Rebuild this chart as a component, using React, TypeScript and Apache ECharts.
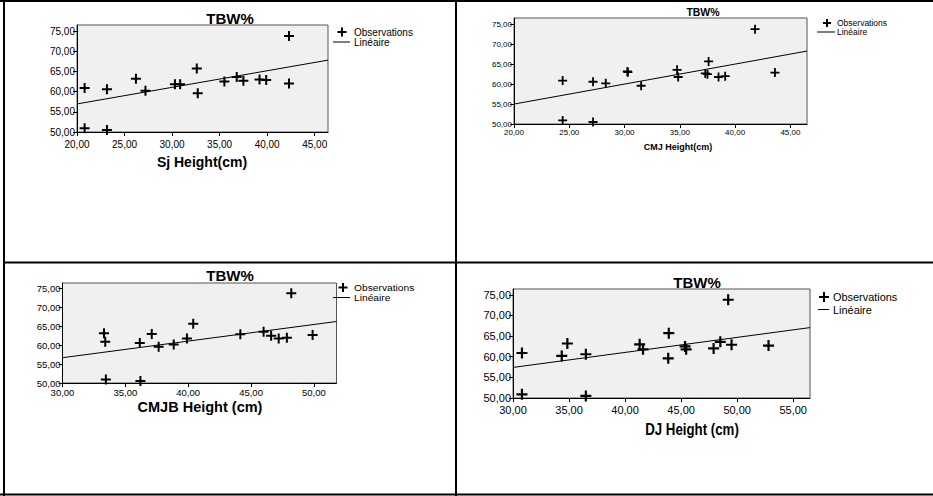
import React, { useEffect, useRef } from 'react';
import * as echarts from 'echarts';

// ---------- data ----------
const yTicks = [50, 55, 60, 65, 70, 75];

const sjTicks = [20, 25, 30, 35, 40, 45];
const sjHeight = [20.8, 20.8, 23.15, 23.15, 26.2, 27.2, 30.3, 30.85, 32.6, 32.7, 35.5, 36.8, 37.5, 39.2, 39.9, 42.3, 42.3];
const sjTBW = [60.9, 50.9, 60.6, 50.5, 63.2, 60.2, 61.8, 61.8, 65.7, 59.6, 62.5, 63.6, 62.7, 63.0, 62.9, 73.8, 62.0];
const sjFitX = [20, 46.4];
const sjFitY = [56.95, 67.8];

const cmjTicks = [20, 25, 30, 35, 40, 45];
const cmjHeight = [24.4, 24.4, 27.15, 27.15, 28.3, 30.25, 30.3, 31.5, 34.75, 34.85, 37.3, 37.6, 37.5, 38.5, 39.1, 41.8, 43.6];
const cmjTBW = [60.9, 50.9, 60.6, 50.5, 60.2, 63.2, 63.0, 59.6, 63.6, 61.8, 62.7, 65.7, 62.5, 61.8, 62.0, 73.8, 62.9];
const cmjFitX = [20, 46.5];
const cmjFitY = [55.0, 68.3];

const cmjbTicks = [30, 35, 40, 45, 50];
const cmjbHeight = [33.3, 33.4, 33.45, 36.15, 36.2, 37.1, 37.65, 38.85, 39.9, 40.4, 44.15, 46.0, 46.6, 47.2, 47.85, 48.2, 49.9];
const cmjbTBW = [63.2, 60.9, 50.9, 60.6, 50.5, 63.0, 59.6, 60.2, 61.8, 65.7, 62.9, 63.6, 62.5, 61.8, 62.0, 73.8, 62.7];
const cmjbFitX = [30, 51.8];
const cmjbFitY = [56.7, 66.3];

const djTicks = [30, 35, 40, 45, 50, 55];
const djHeight = [30.8, 30.8, 34.35, 34.85, 36.5, 36.5, 41.3, 41.6, 43.9, 43.85, 45.35, 45.45, 47.9, 48.5, 49.2, 49.5, 52.8];
const djTBW = [60.9, 50.9, 60.2, 63.2, 60.6, 50.5, 63.0, 61.8, 65.7, 59.6, 62.5, 61.8, 62.0, 63.6, 73.8, 62.9, 62.7];
const djFitX = [30, 56.5];
const djFitY = [57.4, 67.05];

const titleText = 'TBW%';
const legendObs = 'Observations';
const legendLin = 'Linéaire';
const xNames = ['Sj Height(cm)', 'CMJ Height(cm)', 'CMJB Height (cm)', 'DJ Height (cm)'];

// ---------- styling / layout ----------
const ARIAL = "'Liberation Sans', Arial, sans-serif";
const PLUS = 'path://M4,0H6V4H10V6H6V10H4V6H0V4H4Z';
const fmt = (v: number) => v.toFixed(2).replace('.', ',');

const panels = [
  {
    x: sjHeight, y: sjTBW, ticks: sjTicks, fitX: sjFitX, fitY: sjFitY, xmin: 20, xmax: 46.4, ymax: 76.5,
    grid: { left: 77, top: 25, width: 251, height: 107 },
    tickFont: 10, sym: 10, xLabMargin: 7,
    title: { x: 230, y: 18, size: 15 },
    xname: { x: 202, y: 162, size: 14, sx: 1 },
    legend: { plusX: 342, plusY: 32, plusS: 9, textX: 354, lineX1: 333, lineX2: 350, lineY: 42, size: 10, sx: 1 },
  },
  {
    x: cmjHeight, y: cmjTBW, ticks: cmjTicks, fitX: cmjFitX, fitY: cmjFitY, xmin: 20, xmax: 46.5, ymax: 76.6,
    grid: { left: 514, top: 18, width: 293, height: 106 },
    tickFont: 8, sym: 9, xLabMargin: 4,
    title: { x: 703, y: 12, size: 10.5 },
    xname: { x: 678, y: 147, size: 9, sx: 1 },
    legend: { plusX: 827, plusY: 23, plusS: 8, textX: 837, lineX1: 817, lineX2: 835, lineY: 32, size: 8.5, sx: 1 },
  },
  {
    x: cmjbHeight, y: cmjbTBW, ticks: cmjbTicks, fitX: cmjbFitX, fitY: cmjbFitY, xmin: 30, xmax: 51.8, ymax: 76.5,
    grid: { left: 62.5, top: 283, width: 274, height: 100 },
    tickFont: 9.5, sym: 10, xLabMargin: 4,
    title: { x: 230, y: 275.5, size: 15 },
    xname: { x: 200, y: 407, size: 14.5, sx: 1 },
    legend: { plusX: 343, plusY: 287.5, plusS: 9, textX: 354, lineX1: 333, lineX2: 350, lineY: 297.5, size: 9.5, sx: 1.08 },
  },
  {
    x: djHeight, y: djTBW, ticks: djTicks, fitX: djFitX, fitY: djFitY, xmin: 30, xmax: 56.5, ymax: 76.4,
    grid: { left: 513, top: 289, width: 297, height: 109 },
    tickFont: 11, sym: 11, xLabMargin: 6,
    title: { x: 697, y: 282, size: 15 },
    xname: { x: 692, y: 430, size: 16, sx: 0.83 },
    legend: { plusX: 824, plusY: 297, plusS: 10, textX: 833, lineX1: 818, lineX2: 829, lineY: 309.5, size: 11.5, sx: 0.95 },
  },
];

function plus(cx: number, cy: number, s: number, t: number) {
  return [
    { type: 'rect', shape: { x: cx - s / 2, y: cy - t / 2, width: s, height: t }, style: { fill: '#000' } },
    { type: 'rect', shape: { x: cx - t / 2, y: cy - s / 2, width: t, height: s }, style: { fill: '#000' } },
  ];
}

function buildOption() {
  const grid: any[] = [];
  const xAxis: any[] = [];
  const yAxis: any[] = [];
  const series: any[] = [];
  const graphic: any[] = [];

  panels.forEach((p, i) => {
    grid.push({ ...p.grid, show: true, backgroundColor: '#f0f0f0', borderColor: '#555', borderWidth: 1 });
    xAxis.push({
      type: 'value', gridIndex: i, min: p.xmin, max: p.xmax,
      axisLine: { show: true, onZero: false, lineStyle: { color: '#000', width: 1 } },
      axisTick: { show: true, length: 4, inside: false, customValues: p.ticks, lineStyle: { color: '#000' } },
      axisLabel: { customValues: p.ticks, formatter: fmt, fontSize: p.tickFont, fontFamily: ARIAL, color: '#000', margin: p.xLabMargin },
      splitLine: { show: false },
    });
    yAxis.push({
      type: 'value', gridIndex: i, min: 50, max: p.ymax,
      axisLine: { show: true, onZero: false, lineStyle: { color: '#000', width: 1 } },
      axisTick: { show: true, length: 4, customValues: yTicks, lineStyle: { color: '#000' } },
      axisLabel: { customValues: yTicks, formatter: fmt, fontSize: p.tickFont, fontFamily: ARIAL, color: '#000', margin: 2 },
      splitLine: { show: false },
    });
    series.push({
      type: 'line', xAxisIndex: i, yAxisIndex: i, silent: true,
      data: p.fitX.map((v, k) => [v, p.fitY[k]]),
      showSymbol: false, lineStyle: { color: '#000', width: 1 },
    });
    series.push({
      type: 'scatter', xAxisIndex: i, yAxisIndex: i,
      data: p.x.map((v, k) => [v, p.y[k]]),
      symbol: PLUS, symbolSize: p.sym, itemStyle: { color: '#000', opacity: 1 },
    });

    graphic.push({
      type: 'text', x: p.title.x, y: p.title.y,
      style: { text: titleText, font: `bold ${p.title.size}px ${ARIAL}`, fill: '#000', align: 'center', verticalAlign: 'middle' },
    });
    graphic.push({
      type: 'text', x: p.xname.x, y: p.xname.y, scaleX: p.xname.sx,
      style: { text: xNames[i], font: `bold ${p.xname.size}px ${ARIAL}`, fill: '#000', align: 'center', verticalAlign: 'middle' },
    });
    const L = p.legend;
    graphic.push(...plus(L.plusX, L.plusY, L.plusS, 2));
    graphic.push({
      type: 'text', x: L.textX, y: L.plusY, scaleX: L.sx,
      style: { text: legendObs, font: `${L.size}px ${ARIAL}`, fill: '#000', align: 'left', verticalAlign: 'middle' },
    });
    graphic.push({ type: 'line', shape: { x1: L.lineX1, y1: L.lineY, x2: L.lineX2, y2: L.lineY }, style: { stroke: '#000', lineWidth: 1 } });
    graphic.push({
      type: 'text', x: L.textX, y: L.lineY, scaleX: L.sx,
      style: { text: legendLin, font: `${L.size}px ${ARIAL}`, fill: '#000', align: 'left', verticalAlign: 'middle' },
    });
  });

  // frame lines
  const frame = [
    [0, 1, 933, 1],
    [4, 0, 4, 496],
    [0, 494.5, 933, 494.5],
    [456, 0, 456, 496],
    [4, 262.5, 933, 262.5],
  ];
  frame.forEach(([x1, y1, x2, y2]) => {
    graphic.push({ type: 'line', z: 100, shape: { x1, y1, x2, y2 }, style: { stroke: '#000', lineWidth: 2 } });
  });

  return { animation: false, backgroundColor: '#fff', grid, xAxis, yAxis, series, graphic };
}

export default function App() {
  const ref = useRef<HTMLDivElement>(null);
  useEffect(() => {
    document.body.style.margin = '0';
    const chart = echarts.init(ref.current!, null, { renderer: 'svg' });
    chart.setOption(buildOption() as any);
    return () => chart.dispose();
  }, []);
  return <div ref={ref} style={{ position: 'absolute', left: 0, top: 0, width: 933, height: 496 }} />;
}
